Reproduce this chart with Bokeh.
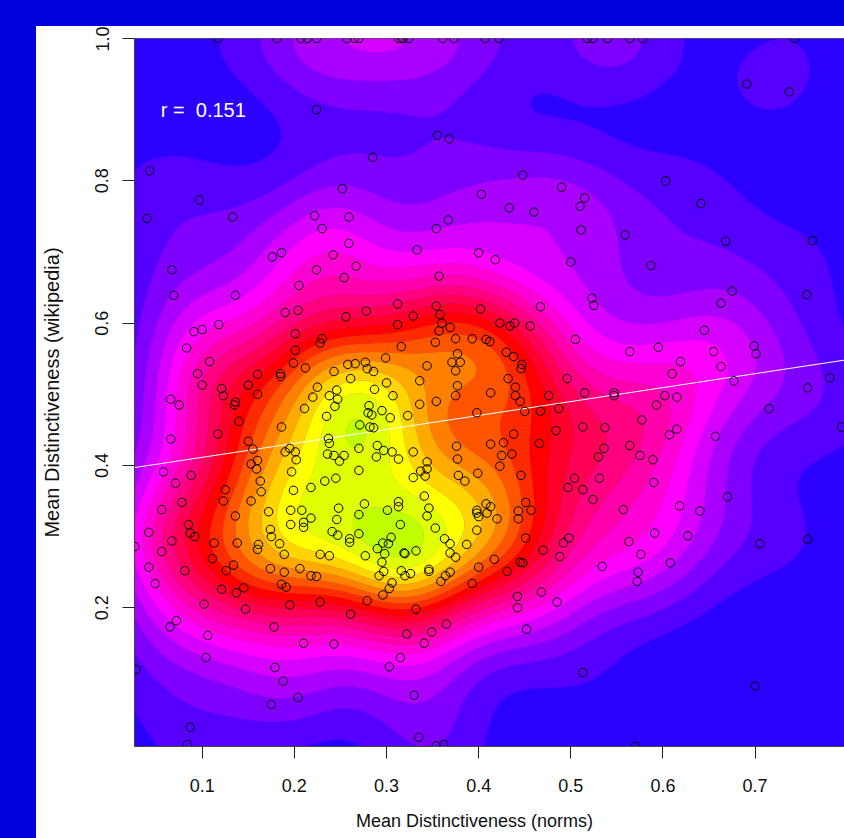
import numpy as np
from bokeh.plotting import figure
from bokeh.embed import file_html
from bokeh.resources import INLINE
from bokeh.layouts import column, row
from bokeh.models import FixedTicker, Label, NumeralTickFormatter, Spacer

norms = [0.117,0.181,0.207,0.214,0.224,0.257,0.265,0.270,0.224,0.285,0.043,0.252,0.097,0.040,0.133,0.222,0.259,0.230,0.259,0.176,0.186,0.242,0.267,0.224,0.067,
0.313,0.316,0.318,0.324,0.361,0.373,0.407,0.422,0.518,0.524,0.540,0.355,0.368,0.448,0.490,0.403,0.515,0.510,0.433,0.460,0.367,0.354,0.511,0.333,0.400,0.418,0.500,
0.564,0.578,0.743,0.691,0.737,0.603,0.641,0.559,0.668,0.762,0.587,
0.254,0.205,0.069,0.136,0.204,0.190,0.256,0.278,0.118,0.100,0.091,0.201,0.230,0.228,0.083,0.201,0.108,0.199,0.212,0.258,0.266,0.277,0.279,0.243,0.095,0.160,0.185,0.185,0.261,0.100,0.150,0.225,0.121,0.123,0.246,0.160,0.238,0.220,0.247,0.066,0.075,0.136,0.135,0.244,0.211,0.281,0.280,0.235,0.140,0.186,0.271,0.117,0.066,0.237,0.238,0.150,0.155,0.195,0.190,0.201,0.270,0.236,0.243,0.254,0.249,0.202,0.160,0.153,0.159,0.058,0.088,0.197,0.270,0.071,0.163,0.233,0.245,0.125,0.164,0.199,0.218,0.078,0.123,0.153,0.276,0.248,0.056,0.172,0.196,0.208,0.282,
0.136,0.218,0.246,0.270,0.085,0.196,0.210,0.210,0.174,0.042,0.087,0.092,0.175,0.241,0.247,0.270,0.260,0.260,0.067,0.113,0.138,0.184,0.161,0.160,0.027,0.056,0.189,0.228,0.238,0.277,0.111,0.042,0.081,0.134,0.126,0.174,0.206,0.189,0.218,0.224,0.049,0.186,0.191,0.145,0.121,0.137,0.228,0.279,0.102,0.195,0.147,0.261,0.072,0.065,0.178,0.106,0.210,0.243,0.104,0.179,0.028,0.188,0.204,0.175,0.087,0.084,
0.357,0.523,0.525,0.312,0.354,0.467,0.402,0.358,0.329,0.360,0.312,0.423,0.439,0.434,0.456,0.369,0.357,0.375,0.393,0.408,0.412,0.353,0.505,0.316,0.430,0.377,0.438,0.299,0.371,0.380,0.447,0.344,0.446,0.375,0.286,0.432,0.496,0.336,0.300,0.377,0.440,0.287,0.515,0.413,0.375,0.440,0.307,0.476,0.354,0.445,0.336,0.487,0.295,0.284,0.304,0.323,0.398,0.450,0.467,0.286,0.513,0.537,0.484,0.438,0.427,0.466,0.413,0.376,0.290,0.536,0.297,0.306,0.329,0.289,0.425,0.436,0.530,0.313,0.377,0.344,0.423,0.344,0.337,0.399,0.342,0.378,0.329,0.446,0.385,0.504,0.531,0.497,0.513,0.341,0.524,0.313,0.408,0.451,0.313,0.346,0.413,0.398,0.301,0.443,0.457,
0.344,0.400,0.398,0.409,0.420,0.443,0.315,0.353,0.398,0.305,0.363,0.296,0.302,0.369,0.451,0.498,0.492,0.387,0.290,0.298,0.319,0.320,0.332,0.369,0.375,0.470,0.488,0.417,0.295,0.445,0.448,0.400,0.534,0.431,0.346,0.346,0.316,0.297,0.320,0.326,0.292,0.364,0.369,0.359,0.306,0.393,0.303,0.296,0.468,0.442,0.485,0.442,0.332,0.365,0.452,0.349,0.322,0.341,0.315,0.303,0.513,0.330,0.335,0.354,0.362,
0.675,0.756,0.663,0.645,0.699,0.701,0.595,0.564,0.655,0.619,0.663,0.610,0.677,0.781,0.757,0.547,0.547,0.602,0.615,0.593,0.715,0.577,0.615,0.607,0.657,0.794,0.564,0.575,0.589,0.590,0.670,0.618,0.557,0.640,
0.591,0.627,0.563,0.705,0.757,0.576,0.608,0.573,0.572,0.700,0.570]

wikipedia = [1.0,1.0,1.0,1.0,1.0,1.0,1.0,1.0,0.900,0.833,0.814,0.789,0.773,0.747,0.749,0.751,0.749,0.733,0.712,0.693,0.699,0.696,0.680,0.675,0.675,
1.0,1.0,1.0,1.0,1.0,1.0,1.0,1.0,1.0,1.0,1.0,0.864,0.859,0.808,0.791,0.781,0.776,0.764,0.762,0.756,0.745,0.733,0.731,0.703,0.699,0.689,0.686,
1.0,1.0,1.0,0.936,0.925,0.800,0.768,0.724,0.715,0.716,0.681,
0.664,0.653,0.639,0.639,0.618,0.615,0.609,0.617,0.598,0.591,0.588,0.585,0.578,0.572,0.565,0.562,0.546,0.544,0.537,0.542,0.543,0.545,0.536,0.532,0.529,0.528,0.529,0.525,0.522,0.513,0.513,0.510,0.508,0.498,0.506,0.500,0.498,0.496,0.493,0.493,0.485,0.489,0.485,0.483,0.480,0.484,0.474,0.469,0.462,0.454,0.457,0.444,0.437,0.438,0.431,0.434,0.423,0.424,0.419,0.419,0.424,0.416,0.414,0.414,0.406,0.408,0.407,0.402,0.395,0.391,0.386,0.391,0.393,0.375,0.378,0.378,0.382,0.366,0.363,0.365,0.369,0.348,0.350,0.350,0.346,0.340,0.338,0.335,0.337,0.337,0.454,
0.329,0.326,0.324,0.331,0.317,0.317,0.320,0.313,0.310,0.306,0.305,0.300,0.300,0.307,0.302,0.304,0.297,0.292,0.294,0.291,0.291,0.290,0.289,0.282,0.286,0.279,0.275,0.275,0.273,0.273,0.269,0.257,0.252,0.260,0.252,0.255,0.255,0.250,0.245,0.244,0.234,0.233,0.229,0.228,0.226,0.221,0.208,0.210,0.205,0.204,0.198,0.191,0.182,0.173,0.173,0.161,0.150,0.149,0.130,0.116,0.113,0.097,0.074,0.064,0.032,0.008,
0.666,0.635,0.625,0.627,0.624,0.623,0.620,0.612,0.610,0.600,0.598,0.600,0.600,0.596,0.596,0.594,0.589,0.578,0.578,0.577,0.574,0.573,0.577,0.567,0.559,0.557,0.553,0.551,0.545,0.545,0.542,0.540,0.536,0.533,0.532,0.522,0.522,0.519,0.516,0.512,0.510,0.507,0.502,0.502,0.498,0.498,0.498,0.498,0.490,0.490,0.486,0.480,0.477,0.471,0.467,0.470,0.474,0.476,0.476,0.453,0.454,0.453,0.449,0.444,0.432,0.431,0.430,0.427,0.428,0.424,0.421,0.419,0.419,0.412,0.414,0.416,0.412,0.409,0.409,0.405,0.399,0.395,0.392,0.389,0.385,0.386,0.383,0.386,0.378,0.382,0.382,0.369,0.366,0.357,0.352,0.349,0.346,0.348,0.342,0.340,0.342,0.337,0.337,0.336,0.337,
0.329,0.328,0.333,0.333,0.325,0.325,0.317,0.312,0.309,0.299,0.297,0.291,0.290,0.290,0.298,0.298,0.291,0.289,0.283,0.276,0.277,0.276,0.280,0.277,0.271,0.281,0.272,0.268,0.264,0.264,0.263,0.257,0.258,0.251,0.254,0.251,0.252,0.251,0.245,0.248,0.245,0.245,0.250,0.237,0.235,0.234,0.227,0.218,0.222,0.216,0.208,0.200,0.198,0.177,0.170,0.166,0.163,0.150,0.130,0.117,0.109,0.077,0.018,0.006,0.008,
0.645,0.640,0.628,0.590,0.568,0.557,0.566,0.560,0.560,0.546,0.539,0.529,0.519,0.523,0.509,0.502,0.498,0.498,0.496,0.485,0.480,0.464,0.451,0.443,0.441,0.454,0.428,0.414,0.408,0.376,0.356,0.343,0.338,0.336,
0.305,0.301,0.293,0.290,0.296,0.275,0.263,0.250,0.237,0.090,0.005]

x_ticks = [0.1,0.2,0.3,0.4,0.5,0.6,0.7]
y_ticks = [0.2,0.4,0.6,0.8,1.0]
reg_x = [0.0265,0.797]
reg_y = [0.397,0.548]
palette = ["#2B00FF","#5500FF","#8000FF","#AA00FF","#D500FF","#FF00FF",
           "#FF00D5","#FF00AA","#FF0080","#FF0055","#FF002B","#FF0000",
           "#FF2B00","#FF5500","#FF8000","#FFAA00","#FFD500","#FFFF00",
           "#E0FF00","#BFFF00"]
BG = "#0000DC"

xs, ys = np.array(norms), np.array(wikipedia)
assert len(xs) == len(ys), (len(xs), len(ys))
x0, x1 = 0.0265, 0.797
y0, y1 = 0.005, 1.0

# 2-D kernel density of the points themselves
hx, hy = 0.048, 0.062
gx = np.linspace(x0, x1, 160)
gy = np.linspace(y0, y1, 160)
kx = np.exp(-0.5*((gx[None, :]-xs[:, None])/hx)**2)
ky = np.exp(-0.5*((gy[None, :]-ys[:, None])/hy)**2)
z = ky.T @ kx
z = z/z.max()
levels = list(np.linspace(0, 1.02, len(palette)+1))

p = figure(width=808, height=812, output_backend="svg",
           toolbar_location=None, x_range=(x0, x1), y_range=(y0, y1),
           min_border_left=98, min_border_right=0, min_border_top=12, min_border_bottom=92,
           border_fill_color="white", background_fill_color=palette[0],
           outline_line_color="#555555")
p.grid.visible = False
p.contour(gx, gy, z, levels, fill_color=palette, line_color=palette, line_width=0.6)
p.line(reg_x, reg_y, line_color="white", line_width=1)
p.scatter(xs, ys, size=8.5, marker="circle", fill_color=None, line_color="black", line_width=1)

font = "Liberation Sans"
p.xaxis.ticker = FixedTicker(ticks=x_ticks)
p.yaxis.ticker = FixedTicker(ticks=y_ticks)
p.xaxis.formatter = NumeralTickFormatter(format="0.0")
p.yaxis.formatter = NumeralTickFormatter(format="0.0")
for ax in (p.xaxis[0], p.yaxis[0]):
    ax.major_tick_out = 12
    ax.major_tick_in = 0
    ax.minor_tick_out = 0
    ax.minor_tick_in = 0
    ax.major_tick_line_color = "#222222"
    ax.axis_line_color = "#444444"
    ax.major_label_text_font = font
    ax.major_label_text_font_size = "18px"
    ax.major_label_text_color = "#111111"
    ax.axis_label_text_font = font
    ax.axis_label_text_font_style = "normal"
    ax.axis_label_text_color = "#111111"
# trailing no-break spaces move the centred title left of the frame's centre, as in the reference
p.xaxis.axis_label = "Mean Distinctiveness (norms)" + "\u00a0" * 6
p.xaxis.axis_label_text_font_size = "18px"
p.xaxis.axis_label_standoff = 16
p.yaxis.axis_label = "Mean Distinctiveness (wikipedia)"
p.yaxis.axis_label_text_font_size = "20px"
p.yaxis.major_label_orientation = "vertical"
p.xaxis.major_label_standoff = 20
p.yaxis.major_label_standoff = 14
p.yaxis.axis_label_standoff = 30

p.add_layout(Label(x=0.055, y=0.8995, text="r =\u00a0\u00a00.151", text_color="white",
                   text_font=font, text_font_size="20px", text_baseline="middle"))

top_band = Spacer(width=844, height=26, styles={"background-color": BG})
left_band = Spacer(width=36, height=812, styles={"background-color": BG})
page = column(top_band, row(left_band, p, spacing=0), spacing=0)

template = """<!DOCTYPE html>
<html><head><meta charset="utf-8"><title>Chart</title>
<style>html,body{margin:0;padding:0;background:#0000DC;overflow:hidden}</style>
{{ bokeh_css }}{{ bokeh_js }}</head>
<body>{{ plot_div }}{{ plot_script }}</body></html>"""
open("out.html", "w").write(file_html(page, INLINE, template=template))
